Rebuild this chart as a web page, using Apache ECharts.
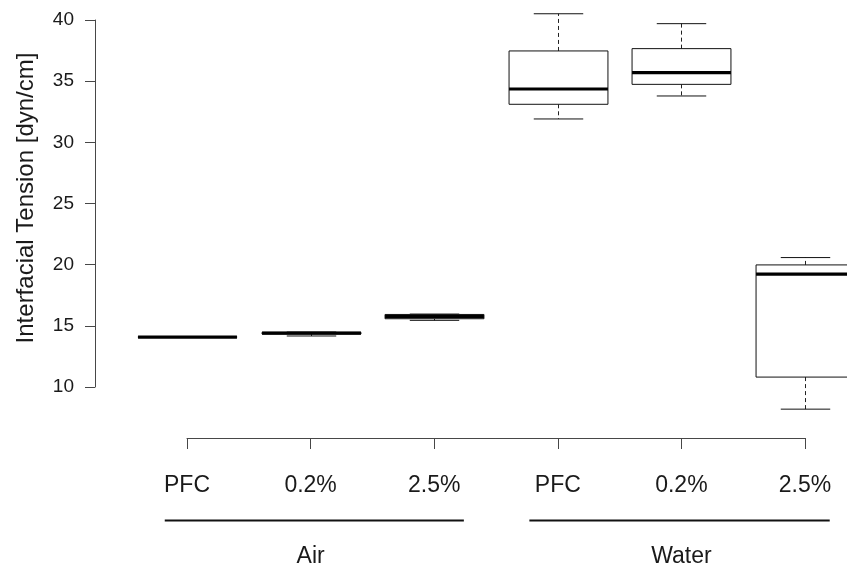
<!DOCTYPE html>
<html>
<head>
<meta charset="utf-8">
<script src="https://cdn.jsdelivr.net/npm/echarts@6/dist/echarts.min.js"></script>
<style>
  html, body { margin: 0; padding: 0; background: #ffffff; }
  #chart { width: 847px; height: 567px; }
</style>
</head>
<body>
<div id="chart"></div>
<script>
// Box positions 1..6 along the x axis
const categories = ['PFC', '0.2%', '2.5%', 'PFC', '0.2%', '2.5%'];
const positions = [1, 2, 3, 4, 5, 6];
// Medium groups under the concentration labels
const groupNames = ['Air', 'Water'];
const groupFirst = [1, 4];
const groupLast = [3, 6];
const groupCentre = [2, 5];
// Five-number summaries, dyn/cm
const lowWhisker = [14.05, 14.17, 15.45, 31.91, 33.79, 8.19];
const lowerQuartile = [14.07, 14.33, 15.58, 33.11, 34.74, 10.81];
const median = [14.08, 14.40, 15.76, 34.36, 35.70, 19.22];
const upperQuartile = [14.10, 14.47, 15.93, 37.47, 37.66, 19.98];
const highWhisker = [14.11, 14.49, 15.96, 40.51, 39.70, 20.58];
// y axis ticks
const yMin = 10, yMax = 40, yStep = 5;

const FONT = "'Liberation Sans', Arial, Helvetica, sans-serif";
const INK = '#1a1a1a';
const AXIS = '#474747';

const boxData = positions.map((p, i) => [
  p, lowWhisker[i], lowerQuartile[i], median[i], upperQuartile[i], highWhisker[i]
]);
const groupData = groupNames.map((g, i) => [groupFirst[i], groupLast[i], groupCentre[i]]);
// how far each group rule runs past its outer boxes (in box units)
const ruleOverhangLeft = [0.18, 0.23];
const ruleOverhangRight = [0.24, 0.2];

function renderBox(params, api) {
  const x = api.value(0);
  const lo = api.coord([x, api.value(1)]);
  const q1 = api.coord([x, api.value(2)]);
  const md = api.coord([x, api.value(3)]);
  const q3 = api.coord([x, api.value(4)]);
  const hi = api.coord([x, api.value(5)]);
  const halfBox = api.size([0.8, 0])[0] / 2;
  const halfCap = halfBox / 2;
  const cx = Math.round(md[0]) + 0.5;
  const whisker = { stroke: '#222', lineWidth: 1, lineDash: [4, 3] };
  const solid = { stroke: '#111', lineWidth: 1 };
  return {
    type: 'group',
    children: [
      { type: 'line', shape: { x1: cx, y1: q1[1], x2: cx, y2: lo[1] }, style: whisker },
      { type: 'line', shape: { x1: cx, y1: q3[1], x2: cx, y2: hi[1] }, style: whisker },
      { type: 'line', shape: { x1: cx - halfCap, y1: lo[1], x2: cx + halfCap, y2: lo[1] }, style: solid },
      { type: 'line', shape: { x1: cx - halfCap, y1: hi[1], x2: cx + halfCap, y2: hi[1] }, style: solid },
      { type: 'rect', shape: { x: cx - halfBox, y: q3[1], width: 2 * halfBox, height: q1[1] - q3[1] },
        style: { fill: '#ffffff', stroke: '#111', lineWidth: 1 } },
      { type: 'line', shape: { x1: cx - halfBox, y1: md[1], x2: cx + halfBox, y2: md[1] },
        style: { stroke: '#000', lineWidth: 3.2 } }
    ]
  };
}

function renderGroup(params, api) {
  const i = params.dataIndex;
  const base = api.coord([api.value(0), yMin]);
  const start = api.coord([api.value(0) - ruleOverhangLeft[i], yMin])[0];
  const end = api.coord([api.value(1) + ruleOverhangRight[i], yMin])[0];
  const mid = api.coord([api.value(2), yMin])[0];
  const lineY = base[1] + 133.5;
  return {
    type: 'group',
    children: [
      { type: 'line', shape: { x1: start, y1: lineY, x2: end, y2: lineY },
        style: { stroke: '#111', lineWidth: 2 } },
      { type: 'text', x: mid, y: lineY + 36,
        style: { text: groupNames[i], fill: INK, font: '23px ' + FONT, align: 'center', verticalAlign: 'middle' } }
    ]
  };
}

const chart = echarts.init(document.getElementById('chart'), null, { renderer: 'canvas' });
chart.setOption({
  backgroundColor: '#ffffff',
  animation: false,
  grid: { left: 187, right: 42, top: 20, bottom: 180 },
  xAxis: {
    type: 'value', min: 1, max: 6, interval: 1, offset: 51,
    axisLine: { show: true, lineStyle: { color: AXIS, width: 1 } },
    axisTick: { show: true, inside: false, length: 11, lineStyle: { color: AXIS, width: 1 } },
    axisLabel: {
      show: true, margin: 36, color: INK, fontSize: 23, fontFamily: FONT,
      formatter: v => categories[Math.round(v) - 1] || ''
    },
    splitLine: { show: false }
  },
  yAxis: {
    type: 'value', min: yMin, max: yMax, interval: yStep, offset: 92,
    name: 'Interfacial Tension [dyn/cm]', nameLocation: 'middle', nameGap: 57,
    nameTextStyle: { color: INK, fontSize: 24, fontFamily: FONT, padding: [0, 0, 0, 11] },
    axisLine: { show: true, lineStyle: { color: AXIS, width: 1 } },
    axisTick: { show: true, inside: false, length: 10, lineStyle: { color: AXIS, width: 1 } },
    axisLabel: { show: true, margin: 21, color: INK, fontSize: 19, fontFamily: FONT },
    splitLine: { show: false }
  },
  series: [
    {
      type: 'custom', name: 'boxes', clip: false,
      renderItem: renderBox,
      encode: { x: 0, y: [1, 2, 3, 4, 5] },
      data: boxData
    },
    {
      type: 'custom', name: 'groups', clip: false,
      renderItem: renderGroup,
      encode: { x: [0, 1, 2] },
      data: groupData
    }
  ]
});
</script>
</body>
</html>
